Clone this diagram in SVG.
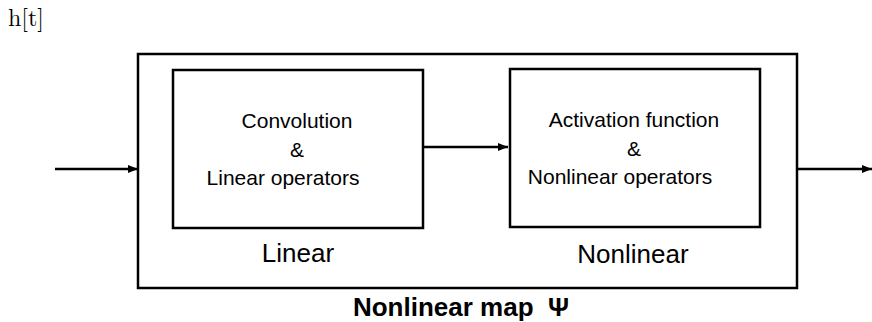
<svg xmlns="http://www.w3.org/2000/svg" width="872" height="322" viewBox="0 0 872 322">
<defs>
<style>
.box{fill:none;stroke:#000;stroke-width:2.5}
.t{font-family:"Liberation Sans","Noto Sans",sans-serif;font-size:21px;fill:#000}
.lbl{font-family:"Liberation Sans","Noto Sans",sans-serif;font-size:26px;fill:#000}
.c{stroke:#000;stroke-width:2.5;fill:none}
</style>
<marker id="ah" viewBox="0 0 10 10" refX="10" refY="5" markerWidth="4" markerHeight="4" orient="auto" markerUnits="strokeWidth">
<path d="M0,1 L10,5 L0,9 z" fill="#000"/>
</marker>
</defs>
<rect width="872" height="322" fill="#fff"/>
<text x="8" y="26" font-family="'Latin Modern Roman','DejaVu Serif','Liberation Serif',serif" font-size="24">h[t]</text>
<g id="outer">
<rect class="box" x="138" y="54" width="659" height="234"/>
<text class="lbl" x="461" y="316" text-anchor="middle" font-weight="bold" xml:space="preserve">Nonlinear map  Ψ</text>
</g>
<g id="linear">
<rect class="box" x="173" y="70" width="250" height="158"/>
<text class="t" x="297" y="128" text-anchor="middle">Convolution</text>
<text class="t" x="297" y="157" text-anchor="middle">&amp;</text>
<text class="t" x="283" y="185" text-anchor="middle">Linear operators</text>
<text class="lbl" x="298" y="262" text-anchor="middle">Linear</text>
</g>
<g id="nonlinear">
<rect class="box" x="510" y="69" width="250" height="158"/>
<text class="t" x="634" y="127" text-anchor="middle">Activation function</text>
<text class="t" x="634" y="156" text-anchor="middle">&amp;</text>
<text class="t" x="620" y="184" text-anchor="middle">Nonlinear operators</text>
<text class="lbl" x="633" y="263" text-anchor="middle">Nonlinear</text>
</g>
<g id="connectors">
<line class="c" x1="55" y1="169" x2="138" y2="169" marker-end="url(#ah)"/>
<line class="c" x1="423" y1="147" x2="508" y2="147" marker-end="url(#ah)"/>
<line class="c" x1="797" y1="169" x2="872" y2="169" marker-end="url(#ah)"/>
</g>
</svg>
